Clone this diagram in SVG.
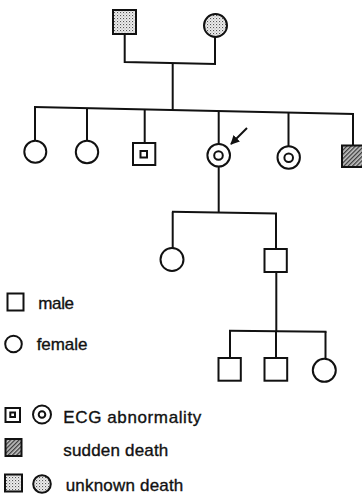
<svg xmlns="http://www.w3.org/2000/svg" width="362" height="497" viewBox="0 0 362 497">
<style>
.s{fill:#fff;stroke:#111;stroke-width:2}
.ln{fill:none;stroke:#111;stroke-width:2}
.dot{fill:url(#stip);stroke:#111;stroke-width:2}
.hat{fill:url(#hatch);stroke:#111;stroke-width:2}
.t{font-family:"Liberation Sans",Arial,sans-serif;font-size:17px;fill:#111;stroke:#111;stroke-width:0.35px}
</style>
<defs>
<pattern id="stip" width="3" height="3" patternUnits="userSpaceOnUse">
<rect width="3" height="3" fill="#eeeeee"/>
<rect x="0" y="0" width="1.1" height="1.1" fill="#555"/>
<rect x="1.5" y="1.5" width="1" height="1" fill="#999"/>
</pattern>
<pattern id="hatch" width="3" height="3" patternUnits="userSpaceOnUse" patternTransform="rotate(45)">
<rect width="3" height="3" fill="#c4c4c4"/>
<rect x="0" y="0" width="1.3" height="3" fill="#3a3a3a"/>
</pattern>
<marker id="ah" viewBox="0 0 10 10" refX="9" refY="5" markerWidth="4.5" markerHeight="4.5" orient="auto" markerUnits="strokeWidth">
<path d="M0,0 L10,5 L0,10 z" fill="#111"/>
</marker>
</defs>
<g id="connectors">
<polyline class="ln" points="124.7,34 124.7,62 215,64 215,37"/>
<line class="ln" x1="172.7" y1="63" x2="172.7" y2="110"/>
<line class="ln" x1="34" y1="107" x2="354" y2="114"/>
<line class="ln" x1="35" y1="107" x2="35" y2="140.7"/>
<line class="ln" x1="87" y1="108.1" x2="87" y2="141"/>
<line class="ln" x1="144.7" y1="109.4" x2="144.7" y2="142.7"/>
<line class="ln" x1="218.7" y1="111" x2="218.7" y2="144"/>
<line class="ln" x1="288.5" y1="112.6" x2="288.5" y2="146.3"/>
<line class="ln" x1="353" y1="114" x2="353" y2="145"/>
<line class="ln" x1="218.7" y1="166.6" x2="218.7" y2="212"/>
<line class="ln" x1="172" y1="211.7" x2="277" y2="213.5"/>
<line class="ln" x1="172.7" y1="211.7" x2="172.7" y2="248"/>
<line class="ln" x1="276" y1="213.5" x2="276" y2="248.7"/>
<line class="ln" x1="276.3" y1="272" x2="276.3" y2="331"/>
<line class="ln" x1="229" y1="330.7" x2="326.5" y2="331.7"/>
<line class="ln" x1="230" y1="330.7" x2="230" y2="357.7"/>
<line class="ln" x1="276" y1="331" x2="276" y2="357.7"/>
<line class="ln" x1="325.5" y1="331.6" x2="325.5" y2="359"/>
<line class="ln" x1="247" y1="128" x2="231" y2="144" marker-end="url(#ah)" stroke-width="2.2"/>
</g>
<g id="grandfather"><rect class="dot" x="113" y="10" width="23" height="24"/></g>
<g id="grandmother"><circle class="dot" cx="215.5" cy="25.5" r="11.5"/></g>
<g id="daughter1"><circle class="s" cx="35.3" cy="151.7" r="11"/></g>
<g id="daughter2"><circle class="s" cx="87" cy="152" r="11.2"/></g>
<g id="son-ecg"><rect class="s" x="133" y="143" width="22.3" height="22"/><rect class="s" x="140.5" y="151" width="6.5" height="6.5" stroke-width="1.6"/></g>
<g id="proband"><circle class="s" cx="218.7" cy="155.3" r="11.3"/><circle class="s" cx="218.5" cy="155.5" r="4.3" stroke-width="1.7"/></g>
<g id="daughter-ecg"><circle class="s" cx="288.7" cy="157.5" r="11.2"/><circle class="s" cx="288.7" cy="157.7" r="4.3" stroke-width="1.7"/></g>
<g id="son-sudden"><rect class="hat" x="342" y="145.5" width="23" height="21.5"/></g>
<g id="grand-daughter"><circle class="s" cx="172" cy="259.5" r="11.5"/></g>
<g id="grand-son"><rect class="s" x="264.5" y="249" width="22.3" height="23"/></g>
<g id="ggson1"><rect class="s" x="218.5" y="358" width="22.3" height="22.7"/></g>
<g id="ggson2"><rect class="s" x="264.5" y="358" width="22.7" height="22.7"/></g>
<g id="ggdaughter"><circle class="s" cx="324.3" cy="370.3" r="11.5"/></g>
<g id="legend">
<rect class="s" x="7.5" y="293.5" width="16" height="17"/>
<text class="t" x="38.3" y="309" textLength="35.7">male</text>
<circle class="s" cx="13.5" cy="344" r="8.3"/>
<text class="t" x="36.7" y="350" textLength="50.7">female</text>
<rect class="s" x="5.5" y="408" width="14.5" height="14"/>
<rect class="s" x="10.3" y="412.5" width="4.7" height="4.5" stroke-width="1.5"/>
<circle class="s" cx="42" cy="414.5" r="9"/>
<circle class="s" cx="42" cy="414.5" r="3.3" stroke-width="1.6"/>
<text class="t" x="63.3" y="422.5" textLength="138">ECG abnormality</text>
<rect class="hat" x="5.5" y="439" width="16" height="17"/>
<text class="t" x="63.3" y="456" textLength="105">sudden death</text>
<rect class="dot" x="5" y="474.5" width="17" height="17"/>
<circle class="dot" cx="42" cy="484" r="8.8"/>
<text class="t" x="65.7" y="491" textLength="117.6">unknown death</text>
</g>
</svg>
